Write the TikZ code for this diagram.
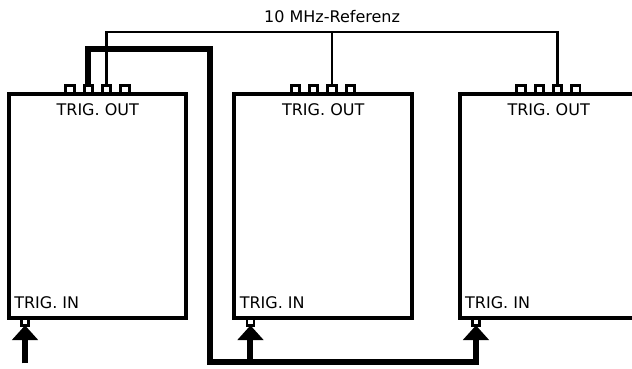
\documentclass[tikz,border=0pt]{standalone}
\usepackage{fontspec}
\setmainfont{DejaVu Sans}
\usetikzlibrary{positioning,arrows.meta,calc}

\begin{document}
\begin{tikzpicture}[
  x=0.75pt, y=-0.75pt,
  font=\fontsize{12pt}{14pt}\selectfont,
  dev/.style={draw, line width=3pt, outer sep=0pt, inner sep=0pt, minimum width=133.1pt, minimum height=168pt},
  port/.style={draw, line width=2.2pt, inner sep=0pt, outer sep=0pt, minimum width=6.2pt, minimum height=6.2pt},
  inport/.style={port, line width=1.9pt, minimum width=5pt, minimum height=5.5pt},
  cable/.style={line width=4.5pt},
  ref/.style={line width=1.8pt},
  arr/.style={-{Triangle[width=19pt,length=11pt]}},
  lbl/.style={inner sep=0pt}
]
\useasboundingbox (0,0) rectangle (632,368);

% ---- devices ----
\node[dev] (dev1) at (97.75,206) {};
\node[dev, right=36pt of dev1] (dev2) {};
\node[dev, right=36pt of dev2] (dev3) {};

% ---- ports and labels ----
\foreach \b in {1,2,3}{
  \foreach \k in {1,...,4}
    \node[port, anchor=south] (out\b\k) at ($(dev\b.north west)+({42.7+18.3*\k},0)$) {};
  \node[inport, anchor=north] (in\b) at ($(dev\b.south west)+(16,0)$) {};
  \node[lbl, anchor=base] at ($(dev\b.north)+(0,21)$) {TRIG. OUT};
  \node[lbl, anchor=base west] at ($(dev\b.south west)+(5,-10)$) {TRIG. IN};
}

% ---- 10 MHz reference ----
\coordinate (refbus) at (out23.north |- 0,32);
\node[lbl, anchor=base] (reflbl) at (out23.north |- 0,22) {10 MHz-Referenz};
\draw[ref] (out13.north) |- (refbus) -| (out33.north);
\draw[ref] (refbus) -- (out23.north);

% ---- trigger chain ----
\coordinate (trigup) at (210,49);
\coordinate (trigdn) at (210,362);
\coordinate (src) at ($(in1.south)+(0,38)$);
\draw[cable, arr] (out12.north) |- (trigup) -- (trigdn) -| (in3.south);
\draw[cable, arr] (in2.south |- trigdn) -- (in2.south);
\draw[cable, arr] (src) -- (in1.south);
\end{tikzpicture}
\end{document}
